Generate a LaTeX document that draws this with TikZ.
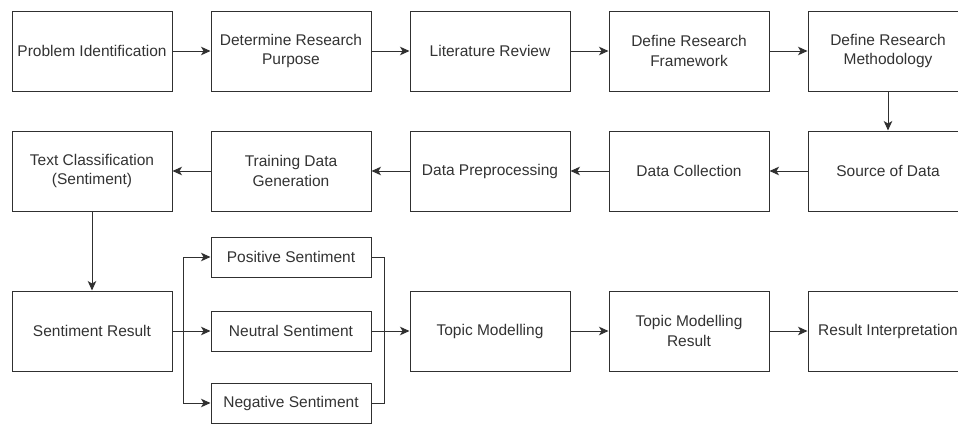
\documentclass[tikz,border=0pt]{standalone}
\usepackage{fontspec}
\setmainfont{Liberation Sans}
\usetikzlibrary{arrows.meta}
\definecolor{ln}{HTML}{303030}
\definecolor{tx}{HTML}{333333}
\begin{document}
\begin{tikzpicture}[x=1pt,y=-1pt,
  box/.style={draw=ln,line width=1pt,fill=white,minimum width=160pt,minimum height=80pt,align=center,text=tx,font=\fontsize{15.5}{19.5}\selectfont,inner sep=0pt},
  sbox/.style={box,minimum height=40pt},
  conn/.style={draw=ln,line width=1pt,-{Stealth[length=9.5pt,width=8.5pt,inset=2.5pt]}},
  plain/.style={draw=ln,line width=1pt}]
\useasboundingbox (0,0) rectangle (958,423);
\node[box] (b1) at (92,51) {Problem Identification};
\node[box] (b2) at (291,51) {Determine Research\\Purpose};
\node[box] (b3) at (490,51) {Literature Review};
\node[box] (b4) at (689,51) {Define Research\\Framework};
\node[box] (b5) at (888,51) {Define Research\\Methodology};
\node[box] (b6) at (888,171) {Source of Data};
\node[box] (b7) at (689,171) {Data Collection};
\node[box] (b8) at (490,171) {Data Preprocessing};
\node[box] (b9) at (291,171) {Training Data\\Generation};
\node[box] (b10) at (92,171) {Text Classification\\(Sentiment)};
\node[box] (b11) at (92,331) {Sentiment Result};
\node[sbox] (pos) at (291,257) {Positive Sentiment};
\node[sbox] (neu) at (291,331) {Neutral Sentiment};
\node[sbox] (neg) at (291,403) {Negative Sentiment};
\node[box] (tm) at (490,331) {Topic Modelling};
\node[box] (tmr) at (689,331) {Topic Modelling\\Result};
\node[box] (ri) at (888,331) {Result Interpretation};
\coordinate (bl) at (183,331);
\coordinate (br) at (384,331);
\draw[conn] (b1) -- (b2);
\draw[conn] (b2) -- (b3);
\draw[conn] (b3) -- (b4);
\draw[conn] (b4) -- (b5);
\draw[conn] (b5) -- (b6);
\draw[conn] (b6) -- (b7);
\draw[conn] (b7) -- (b8);
\draw[conn] (b8) -- (b9);
\draw[conn] (b9) -- (b10);
\draw[conn] (b10) -- (b11);
\draw[plain] (b11.east) -- (bl);
\draw[conn] (bl) |- (pos.west);
\draw[conn] (bl) -- (neu.west);
\draw[conn] (bl) |- (neg.west);
\draw[plain] (pos.east) -| (br);
\draw[plain] (neg.east) -| (br);
\draw[plain] (neu.east) -- (br);
\draw[conn] (br) -- (tm.west);
\draw[conn] (tm) -- (tmr);
\draw[conn] (tmr) -- (ri);
\end{tikzpicture}
\end{document}
